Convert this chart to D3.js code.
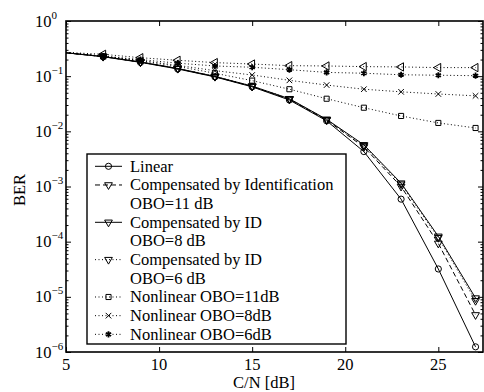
<!DOCTYPE html>
<html>
<head>
<meta charset="utf-8">
<script src="https://cdn.jsdelivr.net/npm/d3@7"></script>
<style>
  body { margin: 0; background: #fff; }
  svg { display: block; font-family: "Liberation Serif", "DejaVu Serif", serif; }
</style>
</head>
<body>
<div id="chart"></div>
<script>
// C/N values in dB
const cn = [5, 7, 9, 11, 13, 15, 17, 19, 21, 23, 25, 27];

// BER curves
const berLinear = [0.265, 0.225, 0.178, 0.135, 0.097, 0.064, 0.037, 0.0155, 0.0043, 5.9e-4, 3.2e-5, 1.24e-6];
const berCompIdent11 = [0.265, 0.226, 0.180, 0.137, 0.098, 0.065, 0.038, 0.0160, 0.0052, 1.0e-3, 9.3e-5, 4.7e-6];
const berCompId8 = [0.266, 0.227, 0.181, 0.138, 0.099, 0.066, 0.039, 0.0165, 0.0057, 1.15e-3, 1.25e-4, 9.5e-6];
const berCompId6 = [0.266, 0.227, 0.181, 0.138, 0.099, 0.066, 0.039, 0.0163, 0.0055, 1.1e-3, 1.18e-4, 8.5e-6];
const berNonlin11 = [0.268, 0.228, 0.190, 0.150, 0.113, 0.083, 0.058, 0.039, 0.0268, 0.019, 0.0142, 0.0115];
const berNonlin8 = [0.268, 0.229, 0.193, 0.157, 0.126, 0.105, 0.084, 0.069, 0.058, 0.052, 0.0475, 0.044];
const berNonlin6 = [0.268, 0.232, 0.200, 0.172, 0.153, 0.145, 0.131, 0.117, 0.113, 0.106, 0.104, 0.102];
const berUpper = [0.27, 0.249, 0.216, 0.194, 0.176, 0.166, 0.155, 0.153, 0.149, 0.147, 0.143, 0.143];

const xTicks = [5, 10, 15, 20, 25];
const yExponents = [0, -1, -2, -3, -4, -5, -6];

const series = [
    { values: berUpper, dash: "1,2.5", marker: "left", legend: null },
    { values: berNonlin6, dash: "1,2.5", marker: "star", legend: ["Nonlinear OBO=6dB"] },
    { values: berNonlin8, dash: "1,2.5", marker: "times", legend: ["Nonlinear OBO=8dB"] },
    { values: berNonlin11, dash: "1,2.5", marker: "square", legend: ["Nonlinear OBO=11dB"] },
    { values: berCompId6, dash: "1,2.5", marker: "down", legend: ["Compensated by ID", "OBO=6 dB"] },
    { values: berCompId8, dash: null, marker: "down", legend: ["Compensated by ID", "OBO=8 dB"] },
    { values: berCompIdent11, dash: "5,3", marker: "down", legend: ["Compensated by Identification", "OBO=11 dB"] },
    { values: berLinear, dash: null, marker: "circle", legend: ["Linear"] },
];
const legendOrder = [7, 6, 5, 4, 3, 2, 1];

const width = 484, height = 392;
const margin = { left: 66, right: 1, top: 21, bottom: 40 };
const fs = 16.5;

const svg = d3.select("#chart").append("svg")
    .attr("width", width)
    .attr("height", height);

const x = d3.scaleLinear().domain([5, 27.4]).range([margin.left, width - margin.right]);
const y = d3.scaleLog().domain([1e-6, 1]).range([height - margin.bottom, margin.top]);

// minor ticks for the log axis
const minors = [];
for (let e = -6; e < 0; e++) {
    for (let m = 2; m <= 9; m++) minors.push(m * Math.pow(10, e));
}

svg.append("g")
    .attr("transform", `translate(${margin.left},0)`)
    .call(d3.axisLeft(y).tickValues(minors).tickSize(-2.5).tickFormat(""))
    .call(g => g.select(".domain").remove());
svg.append("g")
    .attr("transform", `translate(${width - margin.right},0)`)
    .call(d3.axisRight(y).tickValues(minors).tickSize(-2.5).tickFormat(""))
    .call(g => g.select(".domain").remove());
svg.append("g")
    .attr("transform", `translate(${margin.left},0)`)
    .call(d3.axisLeft(y).tickValues(yExponents.map(e => Math.pow(10, e))).tickSize(-5).tickFormat(""))
    .call(g => g.select(".domain").remove());
svg.append("g")
    .attr("transform", `translate(${width - margin.right},0)`)
    .call(d3.axisRight(y).tickValues(yExponents.map(e => Math.pow(10, e))).tickSize(-5).tickFormat(""))
    .call(g => g.select(".domain").remove());
svg.append("g")
    .attr("transform", `translate(0,${height - margin.bottom})`)
    .call(d3.axisBottom(x).tickValues(xTicks).tickSize(-5).tickFormat(""))
    .call(g => g.select(".domain").remove());
svg.append("g")
    .attr("transform", `translate(0,${margin.top})`)
    .call(d3.axisTop(x).tickValues(xTicks).tickSize(-5).tickFormat(""))
    .call(g => g.select(".domain").remove());
svg.selectAll(".tick line").attr("stroke", "#000").attr("stroke-width", 1);

// tick labels
svg.append("g").selectAll("text")
    .data(xTicks)
    .enter().append("text")
    .attr("x", d => x(d))
    .attr("y", height - margin.bottom + 18)
    .attr("text-anchor", "middle")
    .attr("font-size", fs)
    .text(d => d);

const yLab = svg.append("g").selectAll("text")
    .data(yExponents)
    .enter().append("text")
    .attr("x", 35)
    .attr("y", d => y(Math.pow(10, d)) + 5.5)
    .attr("font-size", fs);
yLab.append("tspan").text("10");
yLab.append("tspan")
    .attr("dy", -8)
    .attr("font-size", 11)
    .text(d => d < 0 ? "\u2212" + (-d) : d);

svg.append("text")
    .attr("x", 264)
    .attr("y", 388)
    .attr("text-anchor", "middle")
    .attr("font-size", fs)
    .text("C/N [dB]");

svg.append("text")
    .attr("transform", "translate(25,190) rotate(-90)")
    .attr("text-anchor", "middle")
    .attr("font-size", fs)
    .text("BER");

// markers
function drawMarker(sel, type) {
    const s = sel.append("path")
        .attr("fill", "none")
        .attr("stroke", "#000")
        .attr("stroke-width", 1);
    if (type === "circle") s.attr("d", d3.symbol(d3.symbolCircle, 30)());
    else if (type === "square") s.attr("d", d3.symbol(d3.symbolSquare, 26)());
    else if (type === "times") s.attr("d", d3.symbol(d3.symbolTimes, 22)());
    else if (type === "star") s.attr("d", d3.symbol(d3.symbolAsterisk, 26)()).attr("stroke-width", 1.8);
    else if (type === "down") s.attr("d", d3.symbol(d3.symbolTriangle, 26)()).attr("transform", "rotate(180)");
    else if (type === "left") s.attr("d", d3.symbol(d3.symbolTriangle, 30)()).attr("transform", "rotate(-90)");
}

const line = d3.line()
    .x((d, i) => x(cn[i]))
    .y(d => y(d));

const plot = svg.append("g");
series.forEach(s => {
    plot.append("path")
        .attr("d", line(s.values))
        .attr("fill", "none")
        .attr("stroke", "#000")
        .attr("stroke-width", 1)
        .attr("stroke-dasharray", s.dash);
    plot.append("g").selectAll("g")
        .data(s.values.slice(1))
        .enter().append("g")
        .attr("transform", (d, i) => `translate(${x(cn[i + 1])},${y(d)})`)
        .each(function() { drawMarker(d3.select(this), s.marker); });
});

// frame
svg.append("rect")
    .attr("x", margin.left)
    .attr("y", margin.top)
    .attr("width", width - margin.right - margin.left)
    .attr("height", height - margin.bottom - margin.top)
    .attr("fill", "none")
    .attr("stroke", "#000")
    .attr("stroke-width", 1.6);

// legend
const legend = svg.append("g");
legend.append("rect")
    .attr("x", 87)
    .attr("y", 154)
    .attr("width", 259)
    .attr("height", 190)
    .attr("fill", "#fff")
    .attr("stroke", "#000")
    .attr("stroke-width", 1.4);

let rowY = 166.3;
const rowH = 18.67;
legendOrder.forEach(idx => {
    const s = series[idx];
    legend.append("line")
        .attr("x1", 95).attr("x2", 122)
        .attr("y1", rowY).attr("y2", rowY)
        .attr("stroke", "#000")
        .attr("stroke-width", 1)
        .attr("stroke-dasharray", s.dash);
    const m = legend.append("g").attr("transform", `translate(108.5,${rowY})`);
    drawMarker(m, s.marker);
    s.legend.forEach(txt => {
        legend.append("text")
            .attr("x", 130)
            .attr("y", rowY + 5.5)
            .attr("font-size", fs)
            .text(txt);
        rowY += rowH;
    });
});
</script>
</body>
</html>
